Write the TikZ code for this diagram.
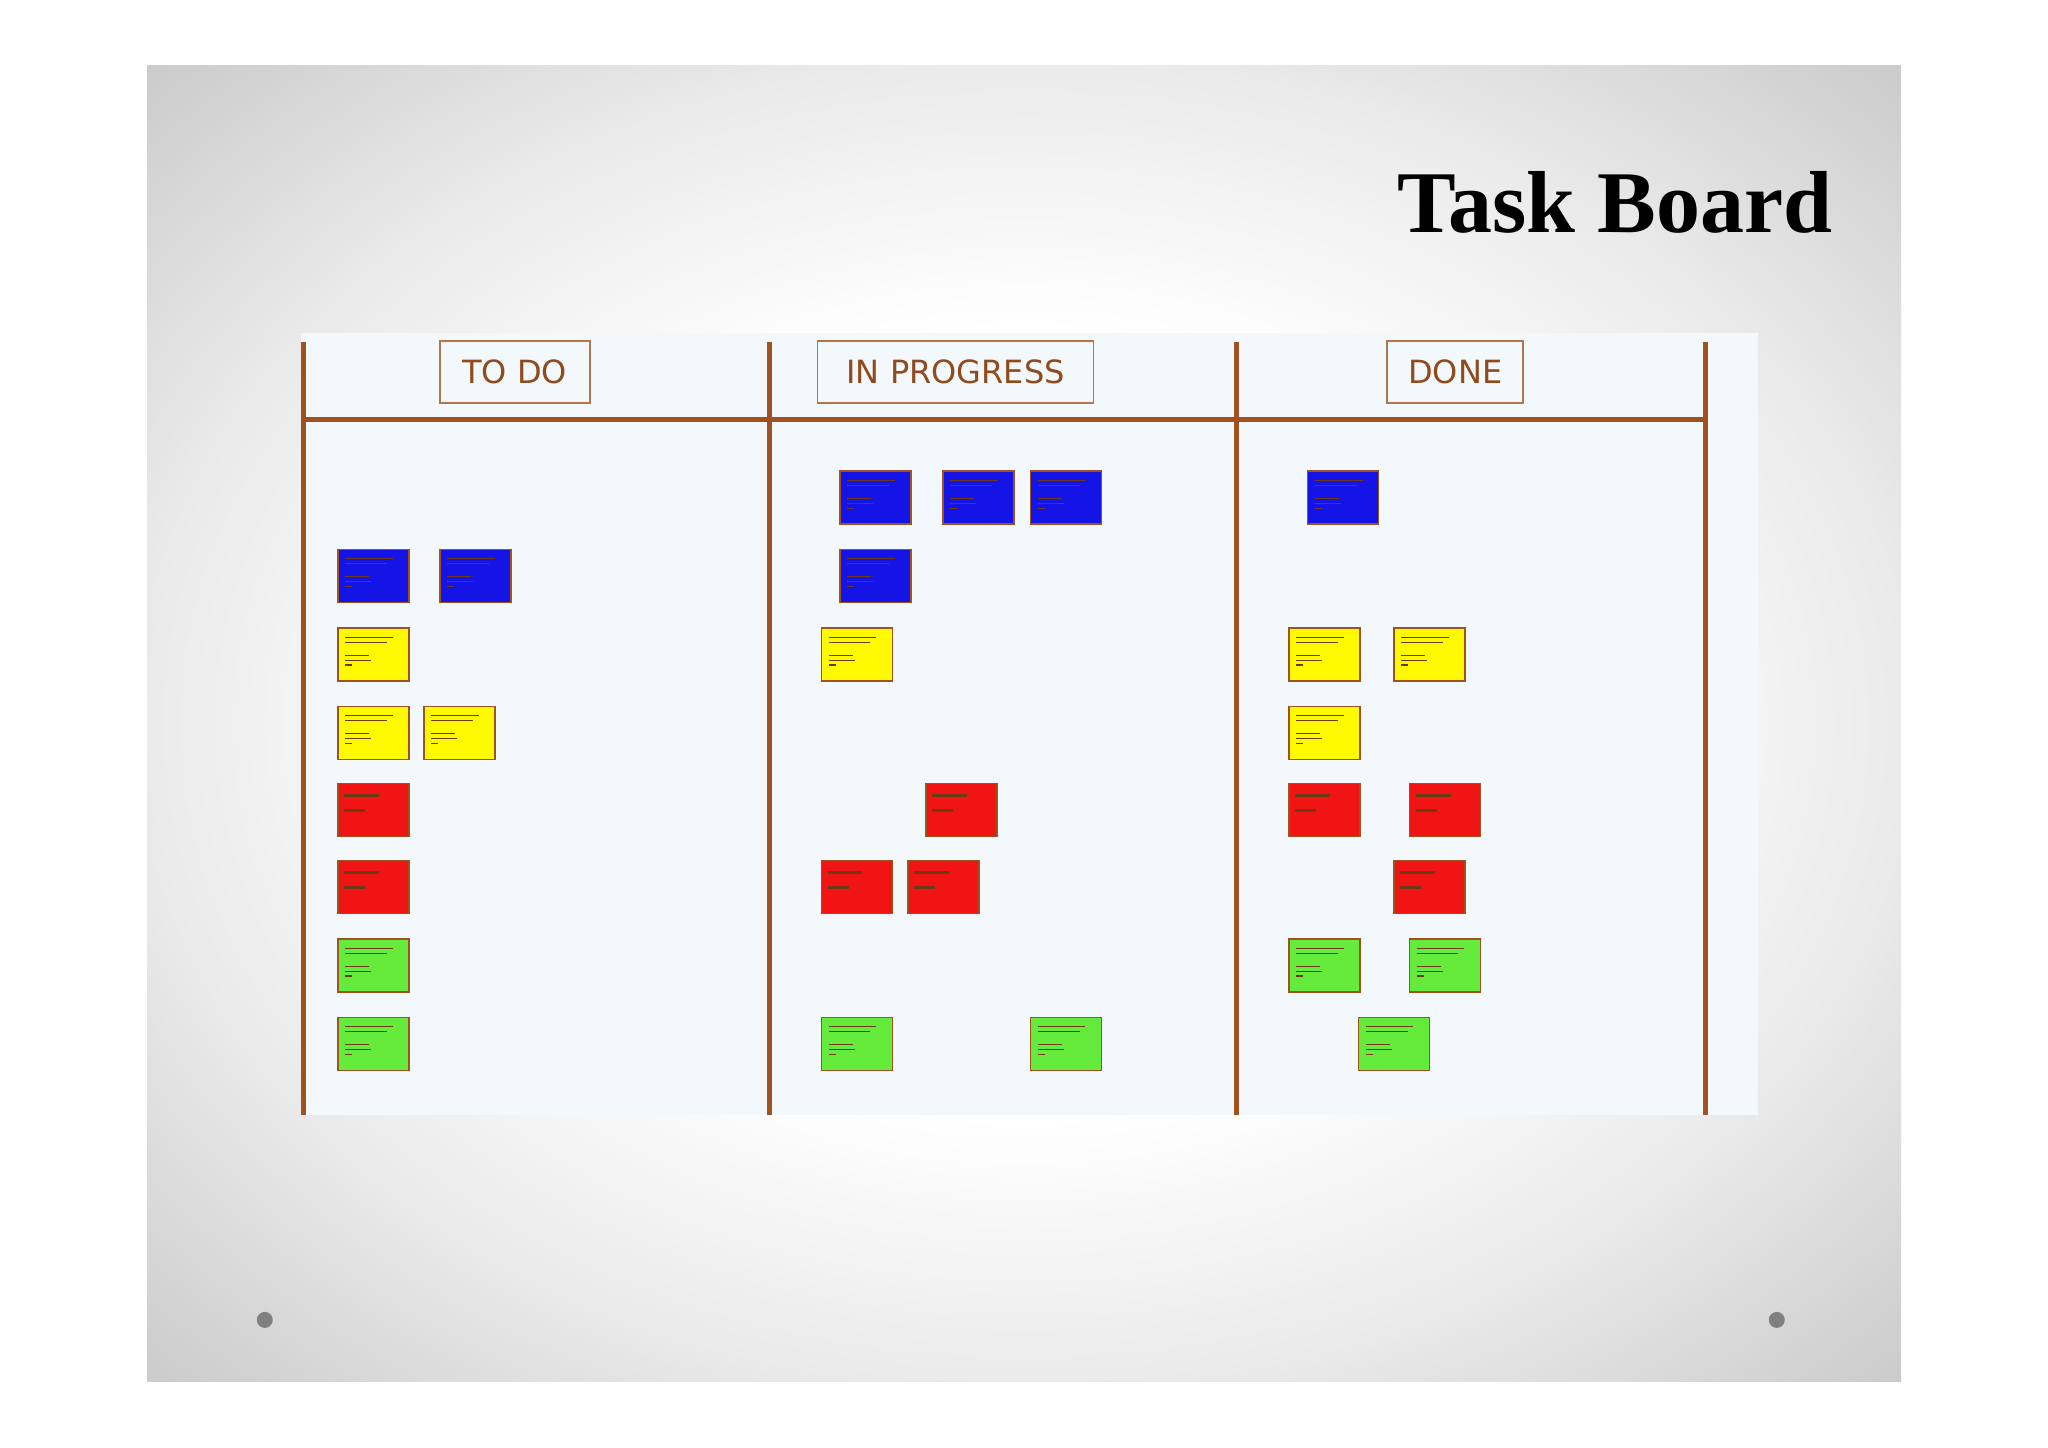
\documentclass[tikz,border=0pt]{standalone}
\usepackage{fontspec}
\setmainfont{Liberation Serif}
\newfontfamily\hdrfont{DejaVu Sans}
\definecolor{brd}{RGB}{160,82,30}
\definecolor{boardbg}{RGB}{242,248,252}
\definecolor{cblue}{RGB}{20,20,230}
\definecolor{cyel}{RGB}{255,250,0}
\definecolor{cred}{RGB}{240,20,20}
\definecolor{cgreen}{RGB}{100,235,60}
\pgfdeclareradialshading{slidebg}{\pgfpoint{0bp}{0bp}}{color(0bp)=(white); color(15bp)=(white); color(25bp)=(black!8); color(35bp)=(black!20); color(50bp)=(black!30)}
\tikzset{
  hdr/.style={draw=brd!80, line width=0.9pt, fill=boardbg, text=brd!90!black, font=\hdrfont\fontsize{16}{16}\selectfont, minimum height=31pt, inner xsep=5pt},
  colline/.style={draw=brd, line width=2.5pt},
  scrib/.style={draw=brd!70!black, line width=0.6pt},
  scribr/.style={draw=brd!70!black, line width=1.6pt},
  cardbox/.style={draw=brd, line width=0.8pt, minimum width=35.5pt, minimum height=26.5pt, inner sep=0pt, anchor=north west},
}
\newcommand{\cardN}[3]{%
 \begin{scope}[shift={(#1,#2)}]
  \node[cardbox, fill=#3] at (0,0) {};
   \draw[scrib] (8,10)--(56,10); \draw[scrib] (8,15)--(50,15);
   \draw[scrib] (8,28)--(32,28); \draw[scrib] (8,33)--(34,33); \draw[scrib] (8,38)--(15,38);
 \end{scope}}
\newcommand{\cardR}[2]{%
 \begin{scope}[shift={(#1,#2)}]
  \node[cardbox, fill=cred] at (0,0) {};
  \draw[scribr] (7,13)--(42,13); \draw[scribr] (7,28)--(28,28);
 \end{scope}}
\begin{document}
\begin{tikzpicture}[x=0.5pt,y=-0.5pt]
\useasboundingbox (0,0) rectangle (2048,1447);
\fill[white] (0,0) rectangle (2048,1447);
\begin{scope}[x=0.4977pt,y=-0.4977pt]
\shade[shading=slidebg] (148,66) rectangle (1910,1388);
\fill[boardbg] (302,335) rectangle (1766,1120);
\node[anchor=east, font=\bfseries\fontsize{44}{44}\selectfont] (title) at (1848,203) {Task Board};
\draw[colline] (305,421) -- (1713,421);
\foreach \x in {305,773,1242,1713} \draw[colline] (\x,344) -- (\x,1120);
\node[hdr, minimum width=75pt] (todo) at (517,374) {TO DO};
\node[hdr, minimum width=138pt] (prog) at (960,374) {IN PROGRESS};
\node[hdr, minimum width=68pt] (done) at (1462,374) {DONE};
\foreach \a/\b in {642/360,721/360,788/360,642/420,1000/360,258/420,336/420}
  {\cardN{\a*1.3128}{\b*1.3128}{cblue}}
\foreach \a/\b in {258/480,258/540,324/540,628/480,986/480,1066/480,986/540}
  {\cardN{\a*1.3128}{\b*1.3128}{cyel}}
\foreach \a/\b in {258/599,258/658,708/599,628/658,694/658,986/599,1078/599,1066/658}
  {\cardR{\a*1.3128}{\b*1.3128}}
\foreach \a/\b in {258/718,258/778,628/778,788/778,986/718,1078/718,1039/778}
  {\cardN{\a*1.3128}{\b*1.3128}{cgreen}}
\fill[black!50] (266,1326) circle (4pt);
\fill[black!50] (1785,1326) circle (4pt);
\end{scope}
\end{tikzpicture}
\end{document}
